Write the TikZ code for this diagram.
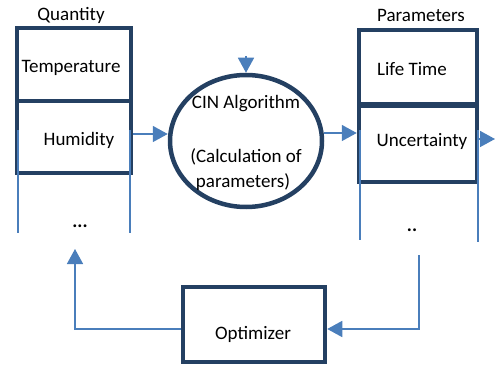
\documentclass[tikz,border=0pt]{standalone}
\usepackage{fontspec}
\setmainfont{Carlito}
\usetikzlibrary{arrows.meta,shapes.geometric}
\definecolor{dk}{RGB}{36,64,98}
\definecolor{bl}{RGB}{74,126,187}
\begin{document}
\begin{tikzpicture}[x=1pt,y=-1pt,
  box/.style={draw=dk,line width=4.5pt,rectangle,inner sep=0pt,fill=white},
  txt/.style={font=\fontsize{19}{23}\selectfont,inner sep=0pt,anchor=center},
  arr/.style={draw=bl,line width=1.6pt,-{Triangle[length=15pt,width=16pt]}},
  ln/.style={draw=bl,line width=1.6pt}]
\useasboundingbox (0,0) rectangle (498,366);
% boxes
\node[box,minimum width=114pt,minimum height=73pt] (temp) at (74,64.5) {};
\node[box,minimum width=114pt,minimum height=72pt] (hum) at (74,137) {};
\node[box,minimum width=118pt,minimum height=74pt] (life) at (418,67) {};
\node[box,minimum width=118pt,minimum height=76pt] (unc) at (418,144) {};
\node[box,minimum width=142pt,minimum height=75pt] (opt) at (254,324.5) {};
\node[draw=dk,line width=4.5pt,ellipse,minimum width=152pt,minimum height=132pt,inner sep=0pt] (cin) at (246,141) {};
% blue side lines of the columns
\draw[ln] (18,130) -- (18,233);
\draw[ln] (130,130) -- (130,233);
\draw[ln] (360,130) -- (360,240);
\draw[ln] (478,130) -- (478,242);
% texts
\node[txt] (tq) at (71,15) {Quantity};
\node[txt] (tp) at (421,15) {Parameters};
\node[txt] (ttemp) at (71,68) {Temperature};
\node[txt] (thum) at (79,140) {Humidity};
\node[txt,font=\fontsize{19}{23}\selectfont\bfseries] (tdots) at (80,226) {...};
\node[txt] (tlife) at (412,69) {Life Time};
\node[txt] (tunc) at (422,141) {Uncertainty};
\node[txt,font=\fontsize{19}{23}\selectfont\bfseries] (tdd) at (412,230) {..};
\node[txt] (topt) at (253,334) {Optimizer};
\node[txt] (c1) at (246,104) {CIN Algorithm};
\node[txt] (c2) at (246,157) {(Calculation of};
\node[txt] (c3) at (243,182) {parameters)};
% connectors
\coordinate (topin) at (246,56);
\coordinate (outr) at (495,139);
\coordinate (rtop) at (419,255);
\coordinate (rcor) at (419,329);
\coordinate (lcor) at (75,329);
\coordinate (lend) at (75,249);
\draw[arr] ([yshift=3pt]hum.east) -- ([yshift=7pt]cin.west);
\draw[arr] ([yshift=8pt]cin.east) -- ([yshift=11pt]unc.west);
\draw[arr] (unc.east |- outr) -- (outr);
\draw[arr] (topin) -- (cin.north);
\draw[arr] (rtop) -- (rcor) -- ([yshift=-4.5pt]opt.east);
\draw[arr] ([yshift=-4.5pt]opt.west) -- (lcor) -- (lend);
\end{tikzpicture}
\end{document}
